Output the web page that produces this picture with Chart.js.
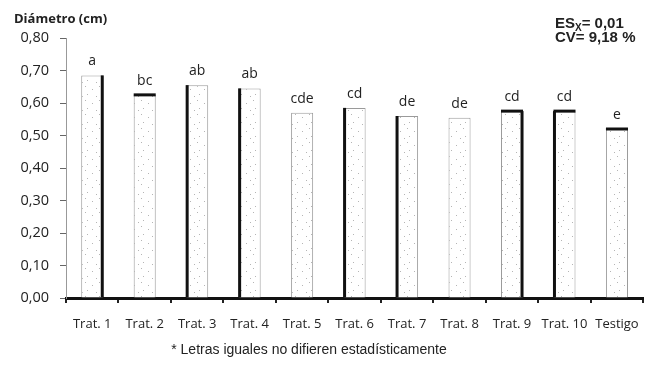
<!DOCTYPE html>
<html>
<head>
<meta charset="utf-8">
<script src="https://cdn.jsdelivr.net/npm/chart.js@4"></script>
<style>
  html, body { margin: 0; padding: 0; background: #fff; }
  #wrap { position: relative; width: 652px; height: 369px; }
  #chart { position: absolute; left: 0; top: 0; }
  .txt { position: absolute; color: #222; white-space: nowrap; }
  #ytitle { left: 14px; top: 9px; font: bold 13px "Open Sans", sans-serif; }
  #stats { left: 555px; top: 16px; font: bold 15px "Liberation Sans", Arial, sans-serif; line-height: 14px; }
  #stats sub { font-size: 10px; vertical-align: -3px; line-height: 0; }
  #note { left: 0; width: 618px; top: 341px; text-align: center; font: 14px "Liberation Sans", Arial, sans-serif; }
</style>
</head>
<body>
<div id="wrap">
  <canvas id="chart" width="652" height="369"></canvas>
  <div class="txt" id="ytitle">Diámetro (cm)</div>
  <div class="txt" id="stats">ES<sub>X</sub>= 0,01<br>CV= 9,18 %</div>
  <div class="txt" id="note">* Letras iguales no difieren estadísticamente</div>
</div>
<script>
// --- data ---
const categories = ['Trat. 1', 'Trat. 2', 'Trat. 3', 'Trat. 4', 'Trat. 5', 'Trat. 6',
                    'Trat. 7', 'Trat. 8', 'Trat. 9', 'Trat. 10', 'Testigo'];
const diametro = [0.685, 0.625, 0.655, 0.645, 0.57, 0.585, 0.56, 0.555, 0.575, 0.575, 0.52];
const letras = ['a', 'bc', 'ab', 'ab', 'cde', 'cd', 'de', 'de', 'cd', 'cd', 'e'];
const yMin = 0, yMax = 0.8, yStep = 0.1;

// which sides of each bar look heavy in the original scan
const heavySides = [['right'], ['top'], ['left'], ['left'], [], ['left'],
                    ['left'], [], ['top', 'right'], ['top', 'left'], ['top']];

// sparse dot pattern for the bar fill
function dotPattern() {
    const c = document.createElement('canvas');
    c.width = 14; c.height = 14;
    const g = c.getContext('2d');
    g.fillStyle = '#fff';
    g.fillRect(0, 0, 14, 14);
    g.fillStyle = 'rgba(90,90,90,0.45)';
    [[1, 2], [8, 5], [3, 10], [12, 12]].forEach(p => g.fillRect(p[0], p[1], 1, 1));
    return g.createPattern(c, 'repeat');
}

const barExtras = {
    id: 'barExtras',
    afterDatasetsDraw(chart) {
        const ctx = chart.ctx;
        const meta = chart.getDatasetMeta(0);
        ctx.save();
        meta.data.forEach((bar, i) => {
            const half = bar.width / 2;
            const left = bar.x - half, right = bar.x + half;
            ctx.strokeStyle = '#111';
            ctx.lineWidth = 3;
            heavySides[i].forEach(side => {
                ctx.beginPath();
                if (side === 'top') { ctx.moveTo(left, bar.y); ctx.lineTo(right, bar.y); }
                if (side === 'left') { ctx.moveTo(left + 1, bar.y); ctx.lineTo(left + 1, bar.base); }
                if (side === 'right') { ctx.moveTo(right - 1, bar.y); ctx.lineTo(right - 1, bar.base); }
                ctx.stroke();
            });
            ctx.fillStyle = '#222';
            ctx.font = '14px "Open Sans", sans-serif';
            ctx.textAlign = 'center';
            ctx.textBaseline = 'alphabetic';
            ctx.fillText(letras[i], bar.x, bar.y - 10);
        });
        ctx.restore();
    }
};

new Chart(document.getElementById('chart'), {
    type: 'bar',
    data: {
        labels: categories,
        datasets: [{
            data: diametro,
            backgroundColor: dotPattern(),
            borderColor: '#9a9a9a',
            borderWidth: 1,
            categoryPercentage: 1,
            barPercentage: 0.42
        }]
    },
    options: {
        responsive: false,
        animation: false,
        layout: { padding: { top: 38, right: 7, left: 0, bottom: 0 } },
        plugins: { legend: { display: false }, tooltip: { enabled: false } },
        scales: {
            x: {
                afterFit: s => { s.height = 71; },
                border: { color: '#111', width: 3 },
                grid: { drawOnChartArea: false, drawTicks: true, tickLength: 5, color: '#222', lineWidth: 2 },
                ticks: { color: '#222', padding: 13, font: { family: 'Open Sans', size: 13 } }
            },
            y: {
                min: yMin,
                max: yMax,
                afterFit: s => { s.width = 66; },
                border: { color: '#999', width: 1 },
                grid: { drawOnChartArea: false, drawTicks: true, tickLength: 6, color: '#666', lineWidth: 1 },
                ticks: {
                    stepSize: yStep,
                    color: '#222',
                    padding: 11,
                    font: { family: 'Open Sans', size: 14.5 },
                    callback: v => v.toFixed(2).replace('.', ',')
                }
            }
        }
    },
    plugins: [barExtras]
});
</script>
</body>
</html>
